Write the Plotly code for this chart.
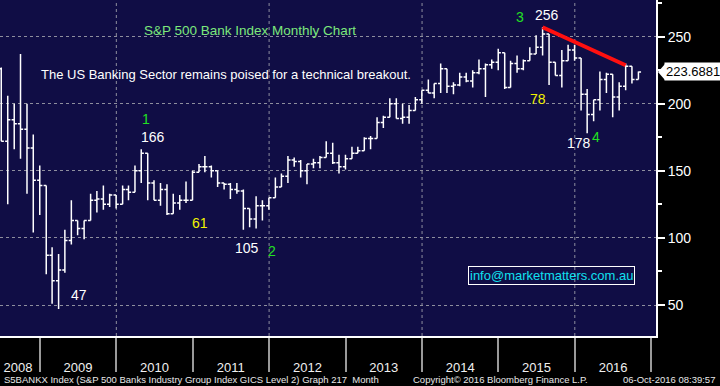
import pandas as pd
import plotly.graph_objects as go

# ---------------- data (monthly bars, Jun 2008 .. Oct 2016) ----------------
bar_start = "2008-06-30"
opens = [226, 172, 188, 185, 181, 167, 143,
         139, 87, 68, 76, 98, 113, 107, 113, 128, 129, 125, 132,
         125, 136, 134, 150, 163, 141, 128, 136, 118, 126, 128, 128,
         149, 153, 153, 150, 141, 140, 136, 135, 122, 114, 124, 124,
         130, 138, 146, 158, 157, 150, 155, 156, 160, 163, 156, 153,
         159, 163, 165, 174, 174, 186, 190, 200, 189, 190, 195, 203,
         210, 208, 215, 226, 213, 214, 220, 217, 223, 226, 229, 231,
         238, 212, 230, 226, 232, 237, 242, 252, 231, 221, 232, 240,
         234, 207, 192, 203, 218, 222, 205, 213, 228, 218]
highs = [227, 206, 200, 237, 200, 177, 154,
         139, 93, 88, 106, 128, 113, 113, 133, 135, 139, 133, 132,
         139, 139, 154, 166, 163, 143, 141, 140, 133, 132, 142, 150,
         155, 161, 154, 150, 141, 141, 141, 136, 122, 131, 128, 130,
         145, 148, 161, 160, 158, 155, 159, 161, 172, 171, 162, 162,
         168, 168, 175, 176, 190, 191, 204, 204, 200, 199, 205, 210,
         218, 215, 230, 226, 216, 223, 223, 225, 233, 230, 233, 241,
         238, 232, 236, 233, 242, 251, 257, 252, 231, 240, 244, 244,
         234, 211, 203, 224, 223, 222, 216, 230, 228, 224]
lows = [172, 125, 166, 159, 133, 104, 117,
        73, 51, 47, 74, 95, 102, 99, 113, 119, 121, 123, 122,
        125, 128, 134, 141, 128, 128, 124, 117, 118, 121, 126, 128,
        149, 149, 145, 138, 136, 129, 133, 106, 108, 107, 113, 121,
        130, 138, 141, 153, 145, 140, 152, 152, 160, 155, 148, 151,
        159, 163, 165, 166, 174, 182, 190, 189, 185, 185, 195, 200,
        208, 204, 208, 208, 207, 213, 216, 212, 222, 205, 226, 225,
        211, 212, 223, 225, 232, 237, 236, 214, 221, 212, 232, 232,
        195, 178, 187, 195, 208, 190, 195, 210, 215, 218]
closes = [172, 188, 185, 181, 167, 143, 139,
          87, 68, 76, 98, 113, 107, 113, 128, 129, 125, 132, 125,
          136, 134, 150, 163, 141, 128, 136, 118, 126, 128, 128, 149,
          153, 153, 150, 141, 140, 136, 135, 122, 114, 124, 124, 130,
          138, 146, 158, 157, 150, 155, 156, 160, 163, 156, 153, 159,
          163, 165, 174, 174, 186, 190, 200, 189, 190, 195, 203, 210,
          208, 215, 226, 213, 214, 220, 217, 223, 226, 229, 231, 238,
          212, 230, 226, 232, 237, 242, 252, 231, 221, 232, 240, 234,
          207, 192, 203, 218, 222, 205, 213, 228, 218, 223.6881]
last_price = 223.6881

trend_x = ["2015-07-31", "2016-08-31"]
trend_y = [257, 228.7]

year_labels = ["2008", "2009", "2010", "2011", "2012", "2013", "2014", "2015", "2016"]
year_label_pos = ["2008-09-18", "2009-07-02", "2010-07-02", "2011-07-02", "2012-07-02",
                  "2013-07-02", "2014-07-02", "2015-07-02", "2016-07-02"]
year_bounds = ["2009-01-01", "2010-01-01", "2011-01-01", "2012-01-01", "2013-01-01",
               "2014-01-01", "2015-01-01", "2016-01-01", "2017-01-01"]
grid_years = ["2010-01-01", "2012-01-01", "2014-01-01", "2016-01-01"]
y_ticks = [50, 100, 150, 200, 250]

# wave labels: (text, date, value, color)
labels = [
    ("1", "2010-05-21", 188.6, "#22e022"),
    ("166", "2010-06-25", 175.2, "#ffffff"),
    ("47", "2009-07-06", 57.5, "#ffffff"),
    ("61", "2011-02-05", 111.1, "#f2f200"),
    ("105", "2011-09-17", 92.5, "#ffffff"),
    ("2", "2012-01-15", 90.2, "#22e022"),
    ("3", "2015-04-14", 264.6, "#22e022"),
    ("256", "2015-08-19", 266.1, "#ffffff"),
    ("78", "2015-07-07", 203.5, "#f2f200"),
    ("178", "2016-01-19", 170.7, "#ffffff"),
    ("4", "2016-04-12", 175.2, "#22e022"),
]

dates = pd.date_range(start=bar_start, periods=len(closes), freq="ME").strftime("%Y-%m-%d").tolist()

FONT = "Liberation Sans, Arial, sans-serif"
BG = "#100d45"
GRID = "#8e8e9e"

fig = go.Figure()
fig.add_trace(go.Ohlc(
    x=dates, open=opens, high=highs, low=lows, close=closes,
    increasing=dict(line=dict(color="white", width=1.5)),
    decreasing=dict(line=dict(color="white", width=1.5)),
    tickwidth=0.45, showlegend=False, hoverinfo="skip",
))
fig.add_trace(go.Scatter(
    x=trend_x, y=trend_y, mode="lines",
    line=dict(color="#ff1010", width=4), showlegend=False, hoverinfo="skip",
))

shapes = []
for g in grid_years:
    shapes.append(dict(type="line", xref="x", yref="paper", x0=g, x1=g, y0=0, y1=1,
                       line=dict(color=GRID, width=1, dash="dot"), layer="below"))
# last price arrow
shapes.append(dict(type="path", xref="paper", yref="y", xsizemode="pixel", ysizemode="pixel",
                   xanchor=1, yanchor=last_price,
                   path="M 2,0 L 9,-8 L 9,8 Z", fillcolor="white", line=dict(width=0)))

annotations = []
annotations.append(dict(text="S&P 500 Bank Index Monthly Chart", xref="paper", yref="paper",
                        x=0.381, y=0.908, xanchor="center", yanchor="middle", showarrow=False,
                        font=dict(family=FONT, size=13.5, color="#7ce87c")))
annotations.append(dict(text="The US Banking Sector remains poised for a technical breakout.",
                        xref="paper", yref="paper", x=0.06, y=0.777, xanchor="left",
                        yanchor="middle", showarrow=False,
                        font=dict(family=FONT, size=13, color="#ffffff")))
annotations.append(dict(text="info@marketmatters.com.au", xref="paper", yref="paper",
                        x=0.84, y=0.18, xanchor="center", yanchor="middle", showarrow=False,
                        font=dict(family=FONT, size=13, color="#10e0f0"),
                        bordercolor="white", borderwidth=1, borderpad=1))
for t, d, v, c in labels:
    annotations.append(dict(text=t, x=d, y=v, xref="x", yref="y", showarrow=False,
                            xanchor="center", yanchor="middle",
                            font=dict(family=FONT, size=14, color=c)))
annotations.append(dict(text="223.6881", xref="paper", yref="y", x=1, y=last_price,
                        xanchor="left", yanchor="middle", xshift=8, showarrow=False,
                        bgcolor="white", borderpad=1,
                        font=dict(family=FONT, size=13, color="black")))
annotations.append(dict(text="S5BANKX Index (S&P 500 Banks Industry Group Index GICS Level 2) Graph 217  Month",
                        xref="paper", yref="paper", x=0.003, y=-0.128, xanchor="left",
                        yanchor="middle", showarrow=False,
                        font=dict(family=FONT, size=9.5, color="#e8e8e8")))
annotations.append(dict(text="Copyright\u00a9 2016 Bloomberg Finance L.P.",
                        xref="paper", yref="paper", x=0.6265, y=-0.128, xanchor="left",
                        yanchor="middle", showarrow=False,
                        font=dict(family=FONT, size=9.5, color="#e8e8e8")))
annotations.append(dict(text="06-Oct-2016 08:39:57",
                        xref="paper", yref="paper", x=1.093, y=-0.128, xanchor="right",
                        yanchor="middle", showarrow=False,
                        font=dict(family=FONT, size=9.5, color="#e8e8e8")))

fig.update_layout(
    width=720, height=386,
    margin=dict(l=0, r=64, t=0, b=50, pad=0),
    paper_bgcolor="black", plot_bgcolor=BG,
    showlegend=False,
    shapes=shapes, annotations=annotations,
    xaxis=dict(
        type="date", range=["2008-06-24", "2017-01-23"],
        rangeslider=dict(visible=False),
        showgrid=False, zeroline=False,
        showline=True, linecolor="white", linewidth=2,
        tickmode="array", tickvals=year_label_pos, ticktext=year_labels,
        ticks="outside", ticklen=18, tickcolor="rgba(0,0,0,0)",
        tickfont=dict(family=FONT, size=13, color="#f0f0f0"),
        minor=dict(tickmode="array", tickvals=year_bounds, ticks="outside", ticklen=34,
                   tickcolor="#9a9a9a", tickwidth=1.5, showgrid=False),
        fixedrange=True,
    ),
    yaxis=dict(
        side="right", range=[26.9, 277.3],
        tickmode="array", tickvals=y_ticks,
        showgrid=True, gridcolor=GRID, griddash="dot", gridwidth=1,
        zeroline=False, showline=True, linecolor="white", linewidth=2,
        ticks="outside", ticklen=7, tickwidth=2, tickcolor="white",
        tickfont=dict(family=FONT, size=14, color="#ffffff"),
        minor=dict(tick0=25, dtick=25, ticks="outside", ticklen=4, tickcolor="white",
                   tickwidth=1.5, showgrid=False),
        fixedrange=True,
    ),
)

fig.write_html(
    "out.html",
    config={"displayModeBar": False},
    post_script="document.body.style.margin='0';document.body.style.background='black';",
)
